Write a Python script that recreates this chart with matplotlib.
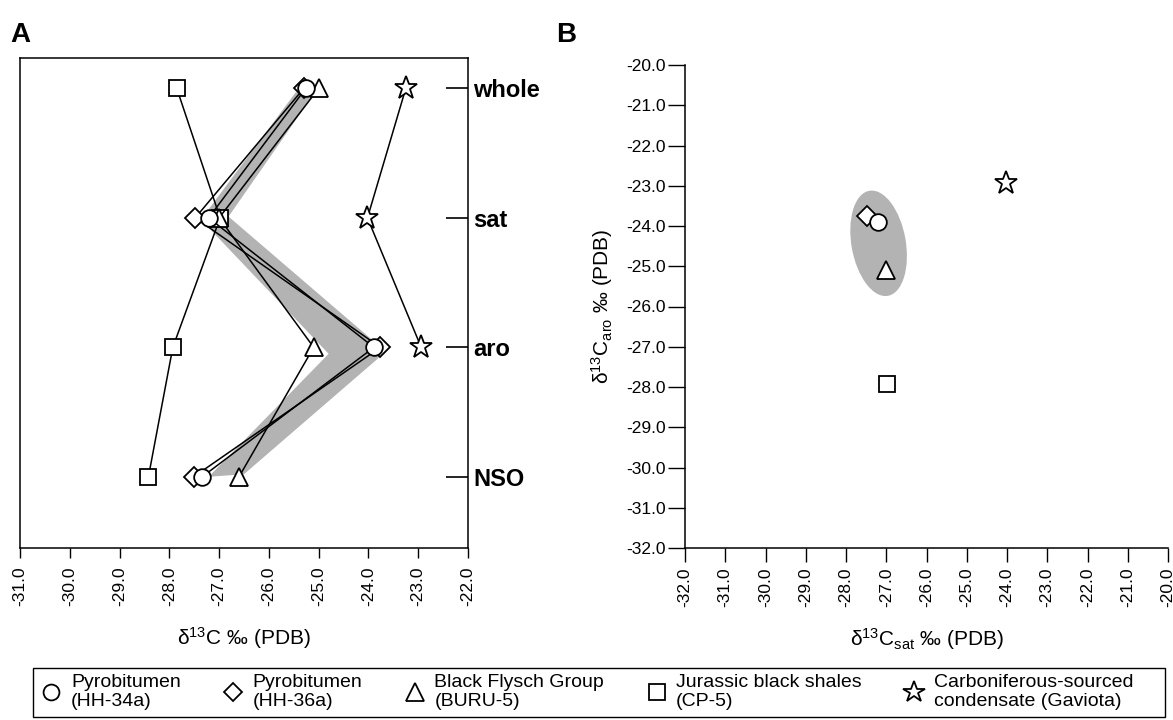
import numpy as np
import matplotlib
matplotlib.use("Agg")
import matplotlib.pyplot as plt
from matplotlib.lines import Line2D
from matplotlib.patches import Ellipse, Polygon, Rectangle

plt.rcParams['font.family'] = ['Liberation Sans', 'DejaVu Sans']
plt.rcParams['mathtext.default'] = 'regular'

# samples and fractions
samples = ['Pyrobitumen\n(HH-34a)', 'Pyrobitumen\n(HH-36a)', 'Black Flysch Group\n(BURU-5)',
           'Jurassic black shales\n(CP-5)', 'Carboniferous-sourced\ncondensate (Gaviota)']
markers = ['o', 'D', '^', 's', '*']
msizes = [12, 10, 13, 12, 17]
fractions = ['NSO', 'aro', 'sat', 'whole']

# d13C values (per mil PDB)
whole = [-25.26, -25.30, -25.00, -27.85, -23.25]
sat = [-27.21, -27.48, -27.00, -26.98, -24.02]
aro = [-23.89, -23.76, -25.10, -27.93, -22.94]
nso = [-27.34, -27.51, -26.60, -28.42, np.nan]

# envelope around the pyrobitumen profiles (panel A)
band_x = [-25.46, -25.11, -26.81, -23.69, -23.82, -26.50, -27.21, -24.80, -27.15, -27.30]
band_y = [3.97, 3.95, 3.01, 1.98, 1.91, 1.02, 1.00, 1.95, 2.90, 3.02]

# pyrobitumen field (panel B)
field_center = (-27.19, -24.43)
field_w, field_h, field_angle = 1.35, 2.65, 10

draw_order = [4, 3, 1, 2, 0]
grey = '#b3b3b3'

W, H = 1173, 720
fig = plt.figure(figsize=(W / 100, H / 100), dpi=100)

# ---- panel A ----
axA = fig.add_axes([20 / W, 1 - 548 / H, 448 / W, 490 / H])
axA.add_patch(Polygon(np.column_stack([band_x, band_y]), closed=True,
                      facecolor=grey, edgecolor='none', zorder=1))
ypos = np.arange(1, len(fractions) + 1)
for i in draw_order:
    vals = np.array([nso[i], aro[i], sat[i], whole[i]])
    ok = ~np.isnan(vals)
    axA.plot(vals[ok], ypos[ok], color='black', lw=1.1, marker=markers[i],
             ms=msizes[i], mfc='white', mec='black', mew=1.3, zorder=3)
axA.set_xlim(-31, -22)
axA.set_ylim(0.45, 4.235)
axA.set_xticks(np.arange(-31, -21.9, 1))
axA.set_xticklabels([f'{v:.1f}' for v in np.arange(-31, -21.9, 1)], rotation=90, fontsize=12.5)
axA.tick_params(axis='x', direction='out', length=7, width=1, pad=6)
axA.yaxis.tick_right()
axA.set_yticks(ypos)
axA.set_yticklabels(fractions, fontsize=17, fontweight='bold')
axA.tick_params(axis='y', direction='in', length=16, width=1.2, pad=4)
for s in axA.spines.values():
    s.set_linewidth(1.1)
axA.set_xlabel('δ$^{13}$C ‰ (PDB)', fontsize=15, labelpad=14)

# ---- panel B ----
axB = fig.add_axes([685 / W, 1 - 548 / H, 483 / W, 483 / H])
axB.add_patch(Ellipse(field_center, field_w, field_h, angle=field_angle,
                      facecolor=grey, edgecolor='none', zorder=1))
for i in draw_order:
    axB.plot(sat[i], aro[i], linestyle='none', marker=markers[i], ms=msizes[i],
             mfc='white', mec='black', mew=1.3, zorder=3)
axB.set_xlim(-32, -20)
axB.set_ylim(-32, -20)
ticksB = np.arange(-32, -19.9, 1)
axB.set_xticks(ticksB)
axB.set_xticklabels([f'{v:.1f}' for v in ticksB], rotation=90, fontsize=12.5)
axB.set_yticks(ticksB)
axB.set_yticklabels([f'{v:.1f}' for v in ticksB], fontsize=12.5)
axB.tick_params(axis='x', direction='out', length=10, width=1, pad=4)
axB.tick_params(axis='y', direction='out', length=12, width=1, pad=2)
axB.spines['top'].set_visible(False)
axB.spines['right'].set_visible(False)
axB.spines['left'].set_linewidth(1.1)
axB.spines['bottom'].set_linewidth(1.1)
axB.set_xlabel('δ$^{13}$C$_{sat}$ ‰ (PDB)', fontsize=15, labelpad=14)
axB.set_ylabel('δ$^{13}$C$_{aro}$ ‰ (PDB)', fontsize=15, labelpad=8)

fig.text(10 / W, 1 - 42 / H, 'A', fontsize=20, fontweight='bold')
fig.text(556 / W, 1 - 42 / H, 'B', fontsize=20, fontweight='bold')

# ---- legend (frame drawn separately so the entries keep a right margin) ----
handles = [Line2D([], [], linestyle='none', marker=markers[i], ms=msizes[i] * 0.95,
                  mfc='white', mec='black', mew=1.3) for i in range(len(samples))]
fig.legend(handles, samples, loc='lower left', ncol=5, mode='expand',
           bbox_to_anchor=(33 / W, 3 / H, 1107 / W, 50 / H), borderaxespad=0,
           fontsize=14, frameon=False,
           handlelength=1.2, handletextpad=0.4, labelspacing=0.15,
           borderpad=0.35)
fig.add_artist(Rectangle((33 / W, 3 / H), 1132 / W, 49 / H, transform=fig.transFigure,
                         facecolor='none', edgecolor='black', lw=1.0))

fig.savefig('out.png', dpi=100)
